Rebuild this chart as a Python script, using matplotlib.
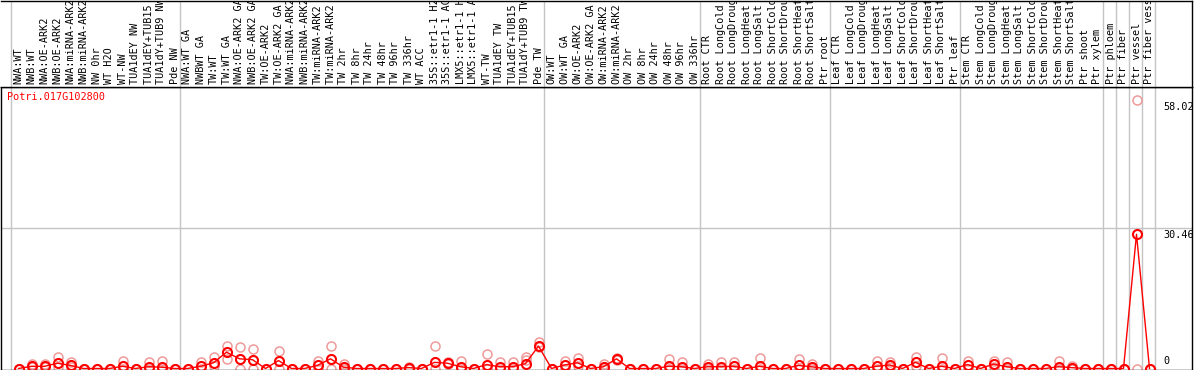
import matplotlib
matplotlib.use('Agg')
import matplotlib.pyplot as plt
import matplotlib.transforms as mtransforms

# column labels (left to right)
labels = [
    'NWA:WT', 'NWB:WT', 'NWA:OE-ARK2', 'NWB:OE-ARK2', 'NWA:miRNA-ARK2', 'NWB:miRNA-ARK2',
    'NW 0hr', 'WT H2O', 'WT-NW', 'TUA1dEY NW', 'TUA1dEY+TUB15 NW', 'TUA1dY+TUB9 NW', 'Pde NW',
    'NWA:WT GA', 'NWBWT GA', 'TW:WT', 'TW:WT GA', 'NWA:OE-ARK2 GA', 'NWB:OE-ARK2 GA',
    'TW:OE-ARK2', 'TW:OE-ARK2 GA', 'NWA:miRNA-ARK2 GA', 'NWB:miRNA-ARK2 GA', 'TW:miRNA-ARK2',
    'TW:miRNA-ARK2 GA', 'TW 2hr', 'TW 8hr', 'TW 24hr', 'TW 48hr', 'TW 96hr', 'TW 336hr',
    'WT ACC', '35S::etr1-1 H2O', '35S::etr1-1 ACC', 'LMX5::etr1-1 H2O', 'LMX5::etr1-1 ACC',
    'WT-TW', 'TUA1dEY TW', 'TUA1dEY+TUB15 TW', 'TUA1dY+TUB9 TW', 'Pde TW',
    'OW:WT', 'OW:WT GA', 'OW:OE-ARK2', 'OW:OE-ARK2 GA', 'OW:miRNA-ARK2', 'OW:miRNA-ARK2 GA',
    'OW 2hr', 'OW 8hr', 'OW 24hr', 'OW 48hr', 'OW 96hr', 'OW 336hr',
    'Root CTR', 'Root LongCold', 'Root LongDrought', 'Root LongHeat', 'Root LongSalt',
    'Root ShortCold', 'Root ShortDrought', 'Root ShortHeat', 'Root ShortSalt', 'Ptr root',
    'Leaf CTR', 'Leaf LongCold', 'Leaf LongDrought', 'Leaf LongHeat', 'Leaf LongSalt',
    'Leaf ShortCold', 'Leaf ShortDrought', 'Leaf ShortHeat', 'Leaf ShortSalt', 'Ptr leaf',
    'Stem CTR', 'Stem LongCold', 'Stem LongDrought', 'Stem LongHeat', 'Stem LongSalt',
    'Stem ShortCold', 'Stem ShortDrought', 'Stem ShortHeat', 'Stem ShortSalt', 'Ptr shoot',
    'Ptr xylem', 'Ptr phloem', 'Ptr fiber', 'Ptr vessel', 'Ptr fiber vessel',
]

# mean expression (red) and replicate values (pink)
means = [
    0, 0.5, 0.5, 1.2, 0.7, 0, 0, 0, 0.5, 0, 0.4, 0.3, 0,
    0, 0.5, 1.3, 3.7, 2.2, 2.0, 0, 1.8, 0, 0, 0.7, 2.2, 0.3, 0, 0, 0, 0, 0.2, 0,
    1.4, 1.2, 0.4, 0, 0.9, 0.4, 0.4, 1.1, 5.1,
    0, 0.8, 1.3, 0, 0.4, 2.2, 0, 0, 0, 0.5, 0.4, 0,
    0.4, 0.4, 0.5, 0, 0.5, 0, 0, 0.7, 0.4, 0,
    0, 0, 0, 0.5, 0.8, 0, 1.4, 0, 0.5, 0,
    0.9, 0, 1.0, 0.4, 0, 0, 0, 0.4, 0.2, 0,
    0, 0, 0, 30.46, 0,
]
reps_hi = [
    0, 1.1, 1.1, 2.5, 1.4, 0, 0, 0, 1.8, 0, 1.4, 1.6, 0,
    0, 1.4, 2.5, 5.2, 4.9, 4.5, 0, 3.9, 0, 0, 1.7, 5.0, 1.1, 0, 0, 0, 0, 0.4, 0,
    5.0, 1.4, 1.8, 0, 3.3, 1.4, 1.4, 2.5, 6.0,
    0, 1.7, 2.3, 0, 1.1, 2.4, 0, 0, 0, 2.1, 1.5, 0,
    1.1, 1.4, 1.4, 0, 2.4, 0, 0, 2.1, 1.1, 0,
    0, 0, 0, 1.7, 1.4, 0, 2.6, 0, 2.3, 0,
    1.7, 0, 1.8, 1.4, 0, 0, 0, 1.7, 0.5, 0,
    0, 0, 0, 60.92, 0,
]
reps_lo = [
    0, 0.3, 0.3, 0.4, 0.3, 0, 0, 0, 0, 0, 0, 0, 0,
    0, 0, 0.5, 2.2, 0, 0, 0, 0, 0, 0, 0, 0, 0, 0, 0, 0, 0, 0, 0,
    0, 1.0, 0, 0, 0, 0, 0, 2.0, 4.8,
    0, 0, 0.5, 0, 0, 2.0, 0, 0, 0, 0, 0, 0,
    0, 0, 0, 0, 0, 0, 0, 0, 0, 0,
    0, 0, 0, 0, 0.4, 0, 0.6, 0, 0, 0,
    0, 0, 0.4, 0, 0, 0, 0, 0, 0, 0,
    0, 0, 0, 0, 0,
]

# group separators come after these columns
sep_after = [-1, 12, 40, 52, 62, 72, 83, 84, 85, 86, 87]
ytick_vals = [58.02, 30.46, 0]
gene = 'Potri.017G102800'

RED = '#ff0000'
PINK = '#ef9a9a'
GRID = '#c4c4c4'
MONO = 'DejaVu Sans Mono'

W, H = 1194, 370
fig = plt.figure(figsize=(W / 100, H / 100), dpi=100)

# layout in pixels
x_left, x_right = 1, 1192
lab_top, lab_bot = 1, 87
plot_bot = 369.5
first_px, pitch = 18.5, 13.0
zero_px, ppu = 368.5, 4.406

ax = fig.add_axes([x_left / W, 1 - plot_bot / H, (x_right - x_left) / W, (plot_bot - lab_bot) / H])
lab = fig.add_axes([x_left / W, 1 - lab_bot / H, (x_right - x_left) / W, (lab_bot - lab_top) / H])

xlim = ((x_left - first_px) / pitch, (x_right - first_px) / pitch)
for a in (ax, lab):
    a.set_xlim(*xlim)
    a.set_xticks([])
    a.set_yticks([])
    for s in a.spines.values():
        s.set_color('black')
        s.set_linewidth(1)
ax.set_ylim((zero_px - plot_bot) / ppu, (zero_px - lab_bot) / ppu)
lab.set_ylim(0, 1)
lab.spines['left'].set_visible(False)

# separators
for k in sep_after:
    ax.axvline(k + 0.4, color=GRID, lw=1, zorder=0)
    lab.axvline(k + 0.4, color=GRID, lw=1, zorder=0)

# y labels on the right, placed on the label scale
lab_scale = max(reps_hi) / ytick_vals[0]
xr = (1163 - x_left) / (x_right - x_left)
trans = mtransforms.blended_transform_factory(ax.transAxes, ax.transData)
for v in ytick_vals:
    pos = v * lab_scale
    if v > 0:
        ax.axhline(pos, color=GRID, lw=1, zorder=0) if v != ytick_vals[0] else None
        ax.annotate(f'{v:.2f}', (xr, pos), xycoords=trans, xytext=(0, -1.5),
                    textcoords='offset points', ha='left', va='top',
                    fontsize=7.3, family=MONO, annotation_clip=False)
    else:
        ax.annotate('0', (xr, pos), xycoords=trans, xytext=(0, 1.5),
                    textcoords='offset points', ha='left', va='bottom',
                    fontsize=7.3, family=MONO, annotation_clip=False)

# replicates then means
xs = list(range(len(labels)))
ax.plot(xs, reps_hi, 'o', ms=6.5, mfc='none', mec=PINK, mew=1.1, zorder=2)
ax.plot(xs, reps_lo, 'o', ms=6.5, mfc='none', mec=PINK, mew=1.1, zorder=2)
ax.plot(xs, means, '-', color=RED, lw=1, zorder=3)
ax.plot(xs, means, 'o', ms=6.5, mfc='none', mec=RED, mew=1.5, zorder=4)

ax.text(6 / (x_right - x_left), (bot := 1 - (97 - lab_bot) / (plot_bot - lab_bot)), gene,
        transform=ax.transAxes, color=RED, fontsize=7.3, family=MONO, va='center', ha='left')

# column labels, rotated and clipped to the label band
for i, name in enumerate(labels):
    lab.text(i, 3 / (lab_bot - lab_top), name, rotation=90, ha='center', va='bottom',
             fontsize=7.3, family=MONO, clip_on=True)

fig.savefig('out.png', dpi=100)
